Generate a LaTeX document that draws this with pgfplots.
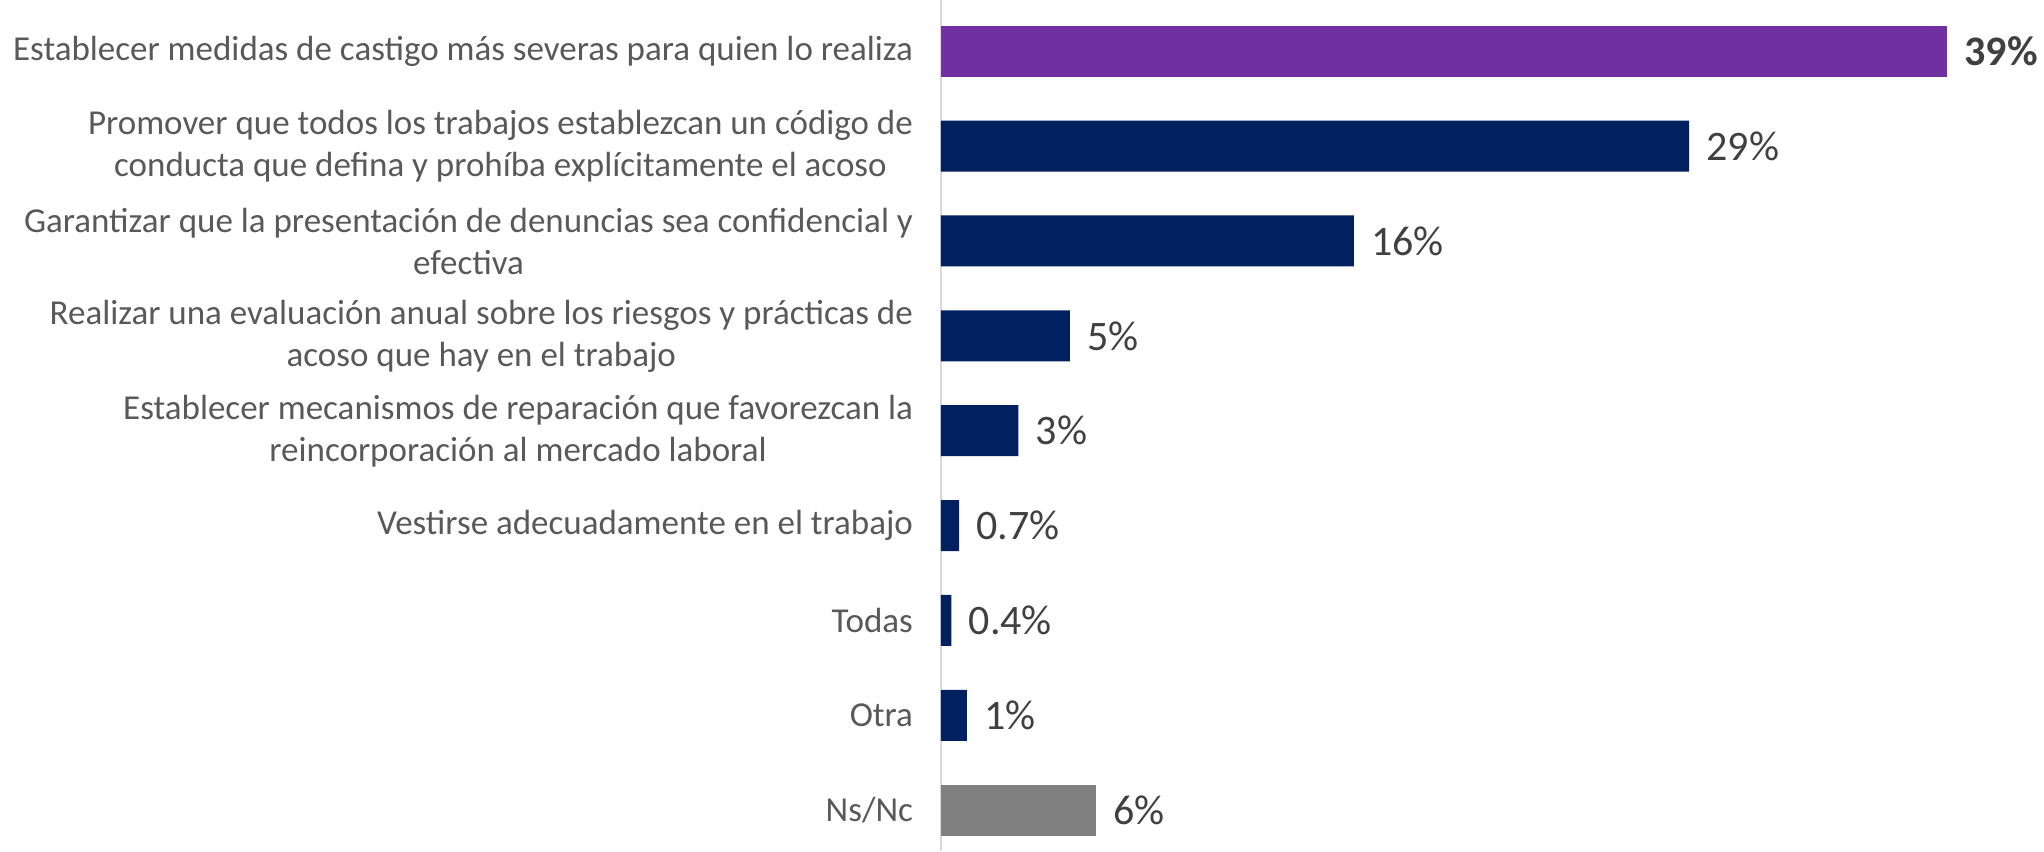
\documentclass[border=0pt]{standalone}
\usepackage{pgfplots}
\pgfplotsset{compat=1.18}
\usepackage{fontspec}
\setmainfont{Carlito}
\definecolor{purp}{HTML}{7030A0}
\definecolor{navy}{HTML}{002060}
\definecolor{grayb}{HTML}{808080}
\definecolor{lab}{HTML}{595959}
\definecolor{val}{HTML}{404040}
\definecolor{axl}{HTML}{D9D9D9}
\begin{document}
\begin{tikzpicture}
\begin{axis}[
  name=ax,
  xbar, bar width=25.5pt, bar shift=0pt,
  scale only axis, width=551.5pt, height=425.5pt,
  xmin=0, xmax=42.75, ymin=-0.54, ymax=8.43, y dir=reverse,
  hide x axis,
  axis y line*=left,
  y axis line style={axl, line width=1pt},
  ytick={0,...,8},
  major tick length=0pt,
  /pgf/number format/assume math mode=true,
  yticklabels={
    {Establecer medidas de castigo más severas para quien lo realiza},
    {Promover que todos los trabajos establezcan un código de\\conducta que defina y prohíba explícitamente el acoso},
    {Garantizar que la presentación de denuncias sea confidencial y\\efectiva},
    {Realizar una evaluación anual sobre los riesgos y prácticas de\\acoso que hay en el trabajo},
    {Establecer mecanismos de reparación que favorezcan la\\reincorporación al mercado laboral},
    {Vestirse adecuadamente en el trabajo},
    {Todas},
    {Otra},
    {Ns/Nc}},
  yticklabel style={align=center, text=lab, font=\fontsize{17.5}{21}\selectfont, xshift=-10.5pt},
  nodes near coords={\pgfmathprintnumber[fixed, precision=1, assume math mode=true]{\pgfplotspointmeta}\%},
  every node near coord/.append style={anchor=west, inner sep=0pt, xshift=8.5pt, text=val, font=\fontsize{21}{25}\selectfont},
  clip=false,
]
\addplot[draw=none, fill=purp, every node near coord/.append style={font=\fontsize{21}{25}\selectfont\bfseries}] coordinates {(39,0)};
\addplot[draw=none, fill=navy] coordinates {(29,1) (16,2) (5,3) (3,4) (0.7,5) (0.4,6) (1,7)};
\addplot[draw=none, fill=grayb] coordinates {(6,8)};
\end{axis}
\pgfresetboundingbox
\path ([xshift=-470.5pt]ax.south west) rectangle (ax.north east);
\end{tikzpicture}
\end{document}
